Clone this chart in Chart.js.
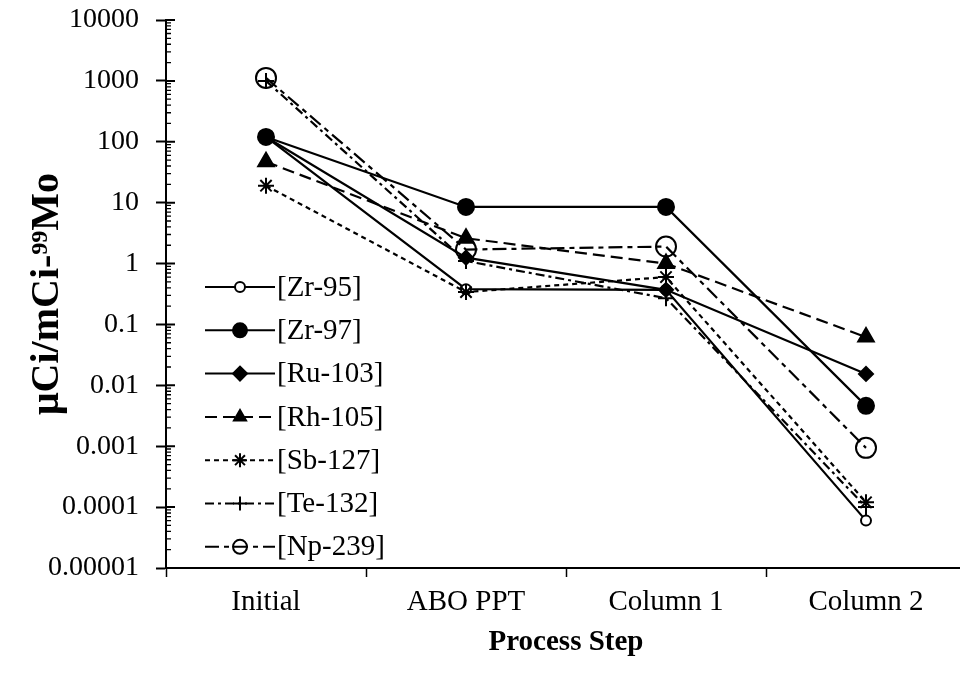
<!DOCTYPE html>
<html>
<head>
<meta charset="utf-8">
<script src="https://cdn.jsdelivr.net/npm/chart.js@4.4.0/dist/chart.umd.min.js"></script>
<style>
  html, body { margin: 0; padding: 0; background: #fff; overflow: hidden; }
  #wrap { width: 966px; height: 677px; }
</style>
</head>
<body>
<div id="wrap"><canvas id="grafico"></canvas></div>
<script>
// datos
const pasos   = ['Initial', 'ABO PPT', 'Column 1', 'Column 2'];
const nombres = ['[Zr-95]', '[Zr-97]', '[Ru-103]', '[Rh-105]', '[Sb-127]', '[Te-132]', '[Np-239]'];
const zr95  = [120, 0.38, 0.37, 0.00006];
const zr97  = [120, 8.5, 8.5, 0.0046];
const ru103 = [120, 1.25, 0.37, 0.0154];
const rh105 = [47, 2.6, 1.0, 0.062];
const sb127 = [19, 0.34, 0.6, 0.00012];
const te132 = [1000, 1.1, 0.27, 0.0001];
const np239 = [1120, 1.7, 1.9, 0.00094];
const yTicks  = [0.00001, 0.0001, 0.001, 0.01, 0.1, 1, 10, 100, 1000, 10000];
const yLabels = ['0.00001', '0.0001', '0.001', '0.01', '0.1', '1', '10', '100', '1000', '10000'];

const fuente = 'Liberation Serif, Times New Roman, serif';
const negro = '#000';

// estilo de cada serie: marcador, tamaño, relleno, trazo
const estilos = [
  { punto: 'circle',   radio: 5,  relleno: '#fff',        guion: [],            orden: 2 },
  { punto: 'circle',   radio: 8,  relleno: negro,         guion: [],            orden: 0 },
  { punto: 'rectRot',  radio: 7,  relleno: negro,         guion: [],            orden: 1 },
  { punto: 'triangle', radio: 9,  relleno: negro,         guion: [12, 6],       orden: 0 },
  { punto: 'star',     radio: 8,  relleno: negro,         guion: [5, 4],        orden: 0 },
  { punto: 'cross',    radio: 8,  relleno: negro,         guion: [9, 4, 3, 4],  orden: 0 },
  { punto: 'circle',   radio: 10, relleno: 'transparent', guion: [14, 5, 5, 5], orden: 0 }
];
const series = [zr95, zr97, ru103, rh105, sb127, te132, np239];

const datasets = series.map((valores, i) => ({
  label: nombres[i],
  data: valores,
  order: estilos[i].orden,
  borderColor: negro,
  borderWidth: 2.2,
  borderDash: estilos[i].guion,
  pointStyle: estilos[i].punto,
  pointRadius: estilos[i].radio,
  pointBackgroundColor: estilos[i].relleno,
  pointBorderColor: negro,
  pointBorderWidth: 2,
  tension: 0,
  fill: false
}));

// leyenda dibujada dentro del area, con linea y marcador
const leyenda = {
  id: 'leyenda',
  afterDraw(chart) {
    const ctx = chart.ctx;
    ctx.save();
    nombres.forEach((nombre, i) => {
      const y = 287 + i * 43.3;
      const e = estilos[i];
      ctx.strokeStyle = negro;
      ctx.lineWidth = 2;
      ctx.setLineDash(e.guion);
      ctx.beginPath();
      ctx.moveTo(205, y);
      ctx.lineTo(275, y);
      ctx.stroke();
      ctx.setLineDash([]);
      ctx.fillStyle = e.relleno;
      ctx.lineWidth = 2;
      Chart.helpers.drawPoint(ctx, {
        pointStyle: e.punto,
        radius: Math.min(e.radio, 7),
        rotation: 0,
        borderWidth: 2
      }, 240, y);
      ctx.fillStyle = negro;
      ctx.font = '29px ' + fuente;
      ctx.textBaseline = 'middle';
      ctx.textAlign = 'left';
      ctx.fillText(nombre, 277, y + 1);
    });
    ctx.restore();
  }
};

// marcas menores y parte interior de las marcas mayores del eje y
const marcasY = {
  id: 'marcasY',
  afterDraw(chart) {
    const sy = chart.scales.y;
    const x0 = chart.chartArea.left;
    const ctx = chart.ctx;
    ctx.save();
    ctx.strokeStyle = negro;
    ctx.lineWidth = 1.3;
    ctx.beginPath();
    for (let k = 0; k < yTicks.length - 1; k++) {
      for (let m = 2; m <= 9; m++) {
        const py = sy.getPixelForValue(yTicks[k] * m);
        ctx.moveTo(x0, py);
        ctx.lineTo(x0 + 5, py);
      }
    }
    ctx.stroke();
    ctx.lineWidth = 2;
    ctx.beginPath();
    yTicks.forEach(v => {
      const py = sy.getPixelForValue(v);
      ctx.moveTo(x0, py);
      ctx.lineTo(x0 + 9, py);
    });
    ctx.stroke();
    ctx.restore();
  }
};

const ctx = document.getElementById('grafico').getContext('2d');
const grafico = new Chart(ctx, {
  type: 'line',
  data: { labels: pasos, datasets: datasets },
  options: {
    responsive: true,
    maintainAspectRatio: false,
    animation: false,
    layout: { autoPadding: false, padding: { top: 20, right: 0, left: 0, bottom: 0 } },
    plugins: {
      legend: { display: false },
      tooltip: { enabled: false }
    },
    scales: {
      x: {
        type: 'category',
        offset: true,
        afterFit: s => { s.height = 109; s.paddingLeft = 0; s.paddingRight = 0; },
        grid: {
          offset: true,
          drawOnChartArea: false,
          tickLength: 9,
          tickWidth: 1.5,
          tickColor: negro
        },
        border: { color: negro, width: 2 },
        ticks: {
          color: negro,
          padding: 8,
          font: { family: fuente, size: 29 }
        },
        title: {
          display: true,
          text: 'Process Step',
          color: negro,
          padding: { top: 0, bottom: 17 },
          font: { family: fuente, size: 29, weight: 'bold' }
        }
      },
      y: {
        type: 'logarithmic',
        min: 0.00001,
        max: 10000,
        afterFit: s => { s.width = 166; s.paddingTop = 0; s.paddingBottom = 0; },
        afterBuildTicks: s => { s.ticks = yTicks.map(v => ({ value: v })); },
        grid: {
          drawOnChartArea: false,
          tickLength: 10,
          tickWidth: 2,
          tickColor: negro
        },
        border: { color: negro, width: 2 },
        ticks: {
          color: negro,
          padding: 17,
          autoSkip: false,
          font: { family: fuente, size: 28 },
          callback: (v) => {
            const i = yTicks.findIndex(t => Math.abs(t - v) / t < 1e-6);
            return i >= 0 ? yLabels[i] : '';
          }
        },
        title: {
          display: true,
          text: 'μCi/mCi-⁹⁹Mo',
          color: negro,
          padding: { top: 24 },
          font: { family: fuente, size: 40, weight: 'bold' }
        }
      }
    }
  },
  plugins: [leyenda, marcasY]
});
</script>
</body>
</html>
